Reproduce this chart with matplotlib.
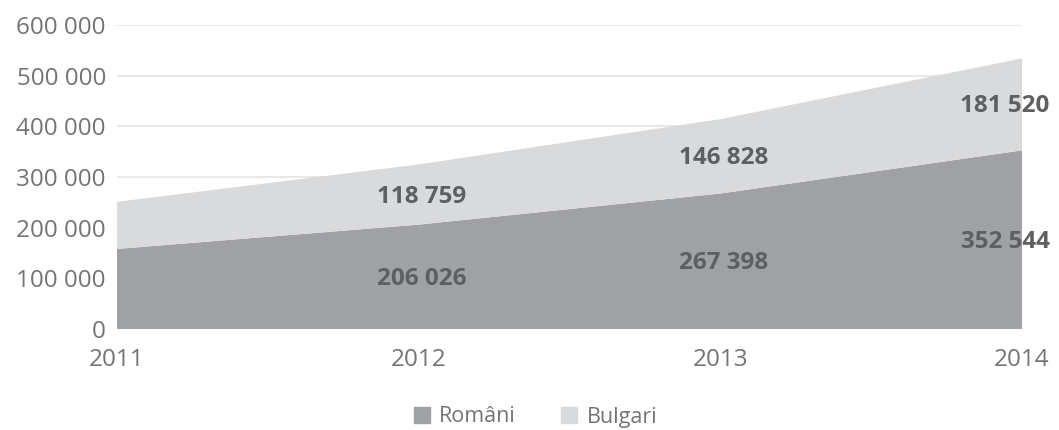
import matplotlib
matplotlib.use("Agg")
import matplotlib.pyplot as plt
from matplotlib.lines import Line2D

years = [2011, 2012, 2013, 2014]
romani = [158000, 206026, 267398, 352544]
bulgari = [93000, 118759, 146828, 181520]
labeled = [False, True, True, True]
series_names = ["Români", "Bulgari"]
colors = ["#a0a1a4", "#d9dadb"]
yticks = [0, 100000, 200000, 300000, 400000, 500000, 600000]

plt.rcParams['font.family'] = ['Open Sans', 'DejaVu Sans']

fig = plt.figure(figsize=(10.59, 4.30), dpi=100)
ax = fig.add_axes([117/1059, 1-329/430, (1022-117)/1059, (329-25)/430])

ax.stackplot(years, romani, bulgari, colors=colors, linewidth=0, zorder=2)

ax.set_xlim(years[0], years[-1])
ax.set_ylim(0, 600000)
ax.set_yticks(yticks)
ax.set_yticklabels([f"{v:,}".replace(",", " ") for v in yticks])
ax.set_xticks(years)
ax.set_xticklabels([str(y) for y in years])
ax.grid(axis='y', color='#e8e8e8', linewidth=1.5, zorder=1)
ax.set_axisbelow(True)
for s in ax.spines.values():
    s.set_visible(False)
ax.tick_params(axis='both', length=0, labelsize=17.5, colors='#737476')
ax.tick_params(axis='y', pad=8)
ax.tick_params(axis='x', pad=14)

def fmt(v):
    return f"{v:,}".replace(",", " ")

for i, (x, r, b) in enumerate(zip(years, romani, bulgari)):
    if not labeled[i]:
        continue
    dx = -17 if i == len(years) - 1 else 3
    ax.annotate(fmt(r), (x, r / 2), xytext=(dx, -2), textcoords='offset pixels',
                ha='center', va='center', fontsize=17.5, fontweight='bold',
                color='#5e5f61', zorder=5, annotation_clip=False)
    ax.annotate(fmt(b), (x, r + b / 2), xytext=(dx, -2), textcoords='offset pixels',
                ha='center', va='center', fontsize=17.5, fontweight='bold',
                color='#5e5f61', zorder=5, annotation_clip=False)

handles = [Line2D([], [], marker='s', linestyle='none', markersize=11,
                  markerfacecolor=c, markeredgecolor=c) for c in colors]
fig.legend(handles, series_names, loc='center', bbox_to_anchor=(534/1059, 1-417/430),
           ncol=2, frameon=False, fontsize=15.5, labelcolor='#737476',
           handletextpad=0.3, columnspacing=2.0, handlelength=1.0)

fig.savefig("out.png", dpi=100)
